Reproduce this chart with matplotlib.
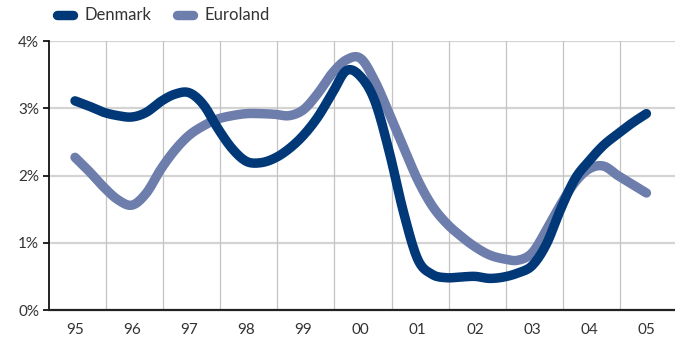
import numpy as np
import matplotlib.pyplot as plt

plt.rcParams['font.family'] = ['Lato', 'DejaVu Sans']

# quarterly inflation, 1995Q1 .. 2005Q1 (%)
years = ['95', '96', '97', '98', '99', '00', '01', '02', '03', '04', '05']
denmark = [3.11, 3.03, 2.94, 2.89, 2.87, 2.94, 3.10, 3.21, 3.23, 3.05,
           2.70, 2.40, 2.21, 2.19, 2.26, 2.40, 2.60, 2.87, 3.22, 3.56,
           3.47, 3.10, 2.35, 1.45, 0.75, 0.53, 0.48, 0.49, 0.50, 0.47,
           0.49, 0.55, 0.66, 0.98, 1.50, 1.95, 2.22, 2.45, 2.62, 2.78,
           2.92]
euroland = [2.27, 2.06, 1.83, 1.64, 1.56, 1.74, 2.09, 2.38, 2.60, 2.74,
            2.84, 2.89, 2.92, 2.92, 2.91, 2.89, 2.98, 3.22, 3.52, 3.72,
            3.74, 3.40, 2.92, 2.42, 1.93, 1.55, 1.29, 1.10, 0.94, 0.82,
            0.76, 0.74, 0.85, 1.19, 1.57, 1.90, 2.10, 2.14, 2.00, 1.87,
            1.74]

x = np.arange(len(denmark)) / 4.0


def smooth(xs, ys, n=10):
    # catmull-rom curve through the points, like a "smoothed line" chart
    xs = np.asarray(xs, float)
    ys = np.asarray(ys, float)
    px = np.concatenate([[2 * xs[0] - xs[1]], xs, [2 * xs[-1] - xs[-2]]])
    py = np.concatenate([[2 * ys[0] - ys[1]], ys, [2 * ys[-1] - ys[-2]]])
    t = np.linspace(0, 1, n, endpoint=False)
    outx, outy = [], []
    for i in range(1, len(px) - 2):
        for p, out in ((px, outx), (py, outy)):
            p0, p1, p2, p3 = p[i - 1], p[i], p[i + 1], p[i + 2]
            out.extend(0.5 * (2 * p1 + (-p0 + p2) * t
                              + (2 * p0 - 5 * p1 + 4 * p2 - p3) * t ** 2
                              + (-p0 + 3 * p1 - 3 * p2 + p3) * t ** 3))
    outx.append(xs[-1])
    outy.append(ys[-1])
    return outx, outy


fig = plt.figure(figsize=(6.75, 3.44), dpi=100)
ax = fig.add_axes([49 / 675, 34 / 344, 626 / 675, 269 / 344])

dk_col = '#003878'
eu_col = '#6d7dac'

# grid
for v in [1, 2, 3, 4]:
    ax.axhline(v, color='#d4d4d4', lw=1.6, zorder=0)
for i in range(len(years) - 1):
    ax.axvline(i + 0.54, color='#c4c4c4', lw=0.9, zorder=0)

ax.plot(*smooth(x, euroland), color=eu_col, lw=6.8, solid_capstyle='round',
        solid_joinstyle='round', label='Euroland', zorder=2)
ax.plot(*smooth(x, denmark), color=dk_col, lw=6.8, solid_capstyle='round',
        solid_joinstyle='round', label='Denmark', zorder=3)

ax.set_xlim(-0.455, 10.5)
ax.set_ylim(0, 4)
ax.set_yticks([0, 1, 2, 3, 4])
ax.set_yticklabels(['0%', '1%', '2%', '3%', '4%'])
ax.set_xticks(range(len(years)))
ax.set_xticklabels(years)

for s in ['top', 'right']:
    ax.spines[s].set_visible(False)
ax.spines['left'].set_linewidth(1.3)
ax.spines['bottom'].set_linewidth(1.6)
ax.spines['left'].set_color('#111111')
ax.spines['bottom'].set_color('#222222')

ax.tick_params(axis='y', length=4, width=1.2, pad=3, labelsize=11,
               labelcolor='#333333')
ax.tick_params(axis='x', length=0, pad=9, labelsize=11, labelcolor='#333333')

h, l = ax.get_legend_handles_labels()
fig.legend([h[1], h[0]], [l[1], l[0]], loc='center left',
           bbox_to_anchor=(42 / 675, 0.955), ncol=2, frameon=False,
           handlelength=0.95, handletextpad=0.7, columnspacing=1.55,
           fontsize=12, labelcolor='#333333')

fig.savefig('out.png', dpi=100)
